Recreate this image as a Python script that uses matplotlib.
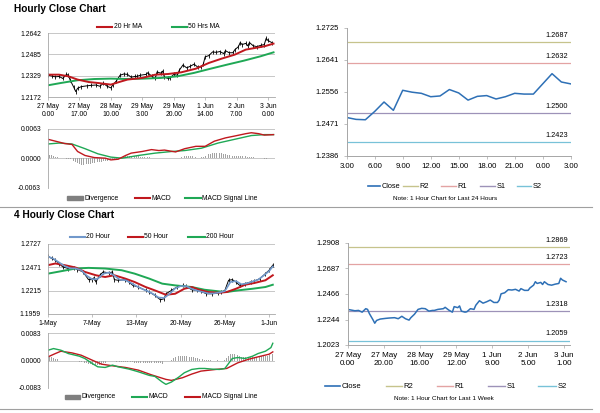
import matplotlib
matplotlib.use('Agg')
import matplotlib.pyplot as plt
from matplotlib.lines import Line2D
from matplotlib.patches import Rectangle

plt.rcParams['font.family'] = ['Liberation Sans', 'DejaVu Sans']

# ---------------- DATA ----------------
# Hourly closes (bar index = trading hour since 27 May 0:00)
h_idx = [0, 2, 4, 6, 8, 10, 11, 12, 14, 15, 16, 18, 21, 23, 26, 28, 30, 32, 34, 35,
         37, 39, 41, 43, 45, 47, 48, 50, 53, 54, 56, 58, 59, 61, 62, 63, 65, 66, 68, 70,
         71, 73, 75, 77, 79, 81, 83, 84, 85, 87, 89, 91, 93, 95, 96, 98, 100, 101, 103, 104,
         105, 107, 108, 109, 111, 113, 115, 117, 118, 119, 121]
h_close = [1.2332, 1.2326, 1.2320, 1.2323, 1.2308, 1.2338, 1.2332, 1.2296, 1.2242, 1.2212,
           1.2236, 1.2248, 1.2254, 1.2257, 1.2260, 1.2251, 1.2272, 1.2251, 1.2239, 1.2260,
           1.2290, 1.2332, 1.2341, 1.2338, 1.2317, 1.2323, 1.2323, 1.2332, 1.2338, 1.2350,
           1.2326, 1.2308, 1.2356, 1.2347, 1.2362, 1.2317, 1.2308, 1.2311, 1.2338, 1.2332,
           1.2368, 1.2407, 1.2386, 1.2398, 1.2413, 1.2392, 1.2392, 1.2413, 1.2467, 1.2476,
           1.2503, 1.2500, 1.2506, 1.2491, 1.2512, 1.2497, 1.2497, 1.2518, 1.2542, 1.2572,
           1.2557, 1.2566, 1.2548, 1.2572, 1.2548, 1.2542, 1.2551, 1.2557, 1.2602, 1.2587,
           1.2572]
h_ticks = [0, 17, 34, 51, 68, 85, 102, 119]
h_ticklabels = ['27 May\n0.00', '27 May\n17.00', '28 May\n10.00', '29 May\n3.00',
                '29 May\n20.00', '1 Jun\n14.00', '2 Jun\n7.00', '3 Jun\n0.00']
h_yticks = [1.2172, 1.2329, 1.2485, 1.2642]

ma20_idx = [0, 6, 11, 16, 22, 27, 34, 38, 43, 51, 58, 65, 72, 80, 87, 94, 101, 107, 112, 117, 122]
ma20 = [1.2336, 1.2336, 1.2324, 1.2300, 1.2282, 1.2275, 1.2263, 1.2280, 1.2300, 1.2312,
        1.2336, 1.2341, 1.2353, 1.2380, 1.2422, 1.2454, 1.2483, 1.2520, 1.2532, 1.2544, 1.2564]
ma50_idx = [0, 7, 16, 25, 34, 43, 52, 61, 70, 79, 88, 97, 106, 115, 122]
ma50 = [1.2258, 1.2275, 1.2295, 1.2304, 1.2307, 1.2304, 1.2307, 1.2312, 1.2324, 1.2349,
        1.2380, 1.2410, 1.2439, 1.2471, 1.2500]

# Hourly MACD
h_macd_idx = [0, 4, 9, 13, 16, 20, 25, 31, 34, 38, 42, 45, 51, 56, 60, 63, 69, 74, 80, 85,
              90, 96, 101, 107, 110, 114, 117, 122]
h_macd = [0.0041, 0.0037, 0.0032, 0.0030, 0.0015, 0.00065, 0.0002, 0.00007, -0.0003, -0.00015,
          0.00065, 0.00115, 0.0015, 0.0019, 0.0017, 0.0018, 0.0014, 0.0021, 0.0026, 0.0026,
          0.0037, 0.0044, 0.0048, 0.0053, 0.0055, 0.0053, 0.0050, 0.0051]
h_sig_idx = [0, 6, 13, 20, 27, 34, 40, 49, 58, 67, 74, 83, 92, 101, 110, 117, 122]
h_sig = [0.0031, 0.0033, 0.0031, 0.0021, 0.0010, 0.0003, 0.00007, 0.00065, 0.00115, 0.0015,
         0.0017, 0.0022, 0.0033, 0.0041, 0.0049, 0.0051, 0.0051]
h_div = [0.0009, 0.0008, 0.0007, 0.0005, 0.0004,
         0.0003, 0.0002, 0.0001, 0.0001, 0.0000,
         -0.0001, -0.0002, -0.0002, -0.0003, -0.0005,
         -0.0008, -0.0010, -0.0012, -0.0013, -0.0013,
         -0.0013, -0.0012, -0.0012, -0.0011, -0.0010,
         -0.0010, -0.0009, -0.0008, -0.0008, -0.0007,
         -0.0006, -0.0006, -0.0005, -0.0005, -0.0004,
         -0.0004, -0.0003, -0.0002, -0.0001, 0.0001,
         0.0003, 0.0004, 0.0005, 0.0006, 0.0006,
         0.0006, 0.0006, 0.0005, 0.0005, 0.0005,
         0.0004, 0.0004, 0.0004, 0.0003, 0.0003,
         0.0003, 0.0002, 0.0002, 0.0002, 0.0001,
         0.0002, 0.0001, 0.0002, 0.0001, 0.0000,
         0.0000, -0.0001, 0.0000, 0.0000, 0.0000,
         0.0001, 0.0002, 0.0003, 0.0004, 0.0005,
         0.0005, 0.0006, 0.0005, 0.0005, 0.0004,
         0.0003, 0.0002, 0.0002, 0.0003, 0.0004,
         0.0006, 0.0008, 0.0009, 0.0010, 0.0011,
         0.0012, 0.0012, 0.0012, 0.0011, 0.0011,
         0.0010, 0.0009, 0.0008, 0.0007, 0.0006,
         0.0006, 0.0006, 0.0005, 0.0005, 0.0005,
         0.0005, 0.0005, 0.0005, 0.0004, 0.0004,
         0.0004, 0.0003, 0.0002, 0.0002, 0.0001,
         0.0000, 0.0000, -0.0001, -0.0001, 0.0000,
         0.0000, 0.0000, 0.0000]
h_macd_yticks = [-0.0063, 0.0, 0.0063]

# 4-hourly
f_idx = [0, 2, 4, 6, 8, 11, 14, 16, 19, 22, 24, 25, 26, 28, 30, 33, 35, 36, 38, 42,
         44, 46, 49, 53, 55, 58, 61, 63, 64, 67, 70, 73, 75, 78, 81, 83, 86, 89, 92, 94,
         96, 98, 100, 102, 104, 107, 110, 112, 115, 118, 120, 122]
f_close = [1.2594, 1.2568, 1.2550, 1.2513, 1.2476, 1.2458, 1.2469, 1.2447, 1.2421, 1.2336,
           1.2336, 1.2358, 1.2310, 1.2384, 1.2421, 1.2410, 1.2421, 1.2336, 1.2329, 1.2336,
           1.2310, 1.2273, 1.2255, 1.2218, 1.2200, 1.2163, 1.2115, 1.2126, 1.2181, 1.2218,
           1.2255, 1.2273, 1.2262, 1.2225, 1.2218, 1.2207, 1.2181, 1.2181, 1.2188, 1.2200,
           1.2218, 1.2329, 1.2336, 1.2310, 1.2273, 1.2292, 1.2310, 1.2321, 1.2347, 1.2402,
           1.2439, 1.2495]
f_ticks = [0, 24, 48, 72, 96, 120]
f_ticklabels = ['1-May', '7-May', '13-May', '20-May', '26-May', '1-Jun']
f_yticks = [1.1959, 1.2215, 1.2471, 1.2727]

f_ma20_idx = [0, 3, 6, 9, 12, 15, 18, 21, 24, 27, 30, 33, 36, 39, 42, 45, 48, 51, 54, 57,
              60, 63, 66, 69, 72, 75, 78, 81, 84, 87, 90, 93, 96, 99, 102, 105, 108, 111, 114, 117,
              120, 122]
f_ma20 = [1.2590, 1.2565, 1.2525, 1.2485, 1.2460, 1.2460, 1.2440, 1.2380, 1.2340, 1.2345,
          1.2400, 1.2415, 1.2380, 1.2335, 1.2330, 1.2300, 1.2265, 1.2235, 1.2210, 1.2180,
          1.2140, 1.2135, 1.2180, 1.2240, 1.2265, 1.2265, 1.2235, 1.2215, 1.2200, 1.2185,
          1.2185, 1.2195, 1.2210, 1.2310, 1.2320, 1.2285, 1.2295, 1.2315, 1.2335, 1.2380,
          1.2430, 1.2480]
f_ma50_idx = [0, 4, 9, 15, 20, 26, 31, 36, 42, 47, 53, 58, 64, 69, 74, 78, 82, 87, 93, 97,
              102, 107, 112, 118, 122]
f_ma50 = [1.2495, 1.2513, 1.2495, 1.2469, 1.2421, 1.2384, 1.2365, 1.2384, 1.2347, 1.2310,
          1.2255, 1.2218, 1.2170, 1.2181, 1.2236, 1.2255, 1.2225, 1.2200, 1.2192, 1.2200,
          1.2236, 1.2280, 1.2299, 1.2329, 1.2384]
f_ma200_idx = [0, 7, 15, 22, 31, 40, 47, 55, 62, 69, 78, 85, 93, 97, 103, 111, 118, 122]
f_ma200 = [1.2402, 1.2428, 1.2458, 1.2465, 1.2458, 1.2439, 1.2402, 1.2347, 1.2292, 1.2273,
           1.2255, 1.2225, 1.2207, 1.2200, 1.2218, 1.2236, 1.2255, 1.2280]

f_macd_idx = [0, 3, 7, 11, 17, 20, 24, 27, 31, 35, 38, 44, 49, 55, 58, 62, 64, 67, 71, 74,
              78, 82, 85, 89, 93, 96, 100, 103, 107, 111, 114, 118, 121, 122]
f_macd = [0.0031, 0.0036, 0.0031, 0.0021, 0.0013, 0.0006, -0.0009, -0.0019, -0.0021, -0.0014,
          -0.0019, -0.0026, -0.0034, -0.0045, -0.0048, -0.0065, -0.0072, -0.0065, -0.0050, -0.0037,
          -0.0027, -0.0024, -0.0024, -0.0026, -0.0027, -0.0024, 0.0006, 0.0009, 0.0006, 0.0013,
          0.0021, 0.0028, 0.0039, 0.0052]
f_sig_idx = [0, 4, 7, 13, 18, 24, 29, 35, 42, 49, 56, 64, 67, 73, 78, 83, 91, 97, 103, 109,
             114, 120, 122]
f_sig = [0.0011, 0.0021, 0.0028, 0.0023, 0.0016, 0.0001, -0.0011, -0.0016, -0.0021, -0.0029,
         -0.0043, -0.0057, -0.0060, -0.0052, -0.0041, -0.0032, -0.0027, -0.0024, -0.0007, 0.0004,
         0.0011, 0.0019, 0.0026]
f_div = [0.0012, 0.0011, 0.0010, 0.0008, 0.0006,
         0.0004, 0.0002, 0.0000, -0.0001, -0.0002,
         -0.0003, -0.0003, -0.0003, -0.0003, -0.0002,
         -0.0003, -0.0003, -0.0004, -0.0005, -0.0006,
         -0.0007, -0.0009, -0.0011, -0.0012, -0.0013,
         -0.0014, -0.0015, -0.0014, -0.0013, -0.0011,
         -0.0009, -0.0007, -0.0005, -0.0003, -0.0002,
         -0.0002, -0.0003, -0.0004, -0.0004, -0.0005,
         -0.0005, -0.0005, -0.0006, -0.0006, -0.0006,
         -0.0006, -0.0006, -0.0007, -0.0007, -0.0007,
         -0.0007, -0.0007, -0.0008, -0.0008, -0.0008,
         -0.0008, -0.0008, -0.0008, -0.0008, -0.0008,
         -0.0009, -0.0009, -0.0010, -0.0008, -0.0005,
         -0.0003, 0.0000, 0.0003, 0.0007, 0.0010,
         0.0012, 0.0014, 0.0015, 0.0015, 0.0015,
         0.0014, 0.0013, 0.0012, 0.0011, 0.0010,
         0.0008, 0.0007, 0.0006, 0.0005, 0.0004,
         0.0003, 0.0002, 0.0001, 0.0001, 0.0000,
         0.0000, 0.0000, 0.0001, 0.0000, 0.0000,
         0.0001, 0.0003, 0.0008, 0.0014, 0.0019,
         0.0021, 0.0020, 0.0018, 0.0016, 0.0014,
         0.0012, 0.0011, 0.0010, 0.0010, 0.0010,
         0.0010, 0.0010, 0.0011, 0.0011, 0.0012,
         0.0012, 0.0013, 0.0013, 0.0014, 0.0015,
         0.0017, 0.0019, 0.0021]
f_macd_yticks = [-0.0083, 0.0, 0.0083]

# Last 24 hours (right top)
d_hours = ['3.00', '6.00', '9.00', '12.00', '15.00', '18.00', '21.00', '0.00', '3.00']
d_close = [1.2488, 1.2483, 1.2482, 1.2504, 1.2529, 1.2507, 1.2560, 1.2555, 1.2552, 1.2543,
           1.2545, 1.2562, 1.2553, 1.2534, 1.2544, 1.2546, 1.2537, 1.2543, 1.2552, 1.2550,
           1.2550, 1.2577, 1.2604, 1.2582, 1.2577]
d_yticks = [1.2386, 1.2471, 1.2556, 1.2641, 1.2725]
d_levels = {'R2': 1.2687, 'R1': 1.2632, 'S1': 1.2500, 'S2': 1.2423}

# Last week (right bottom)
w_ticks = [0, 20, 40, 60, 80, 100, 120]
w_ticklabels = ['27 May\n0.00', '27 May\n20.00', '28 May\n16.00', '29 May\n12.00',
                '1 Jun\n9.00', '2 Jun\n5.00', '3 Jun\n1.00']
w_yticks = [1.2023, 1.2244, 1.2466, 1.2687, 1.2908]
w_levels = {'R2': 1.2869, 'R1': 1.2723, 'S1': 1.2318, 'S2': 1.2059}

# ---------------- STYLE ----------------
RED = '#C0181E'
GREEN = '#1FA855'
BLUE = '#2E70B6'
LBLUE = '#7198CB'
GRID = '#BEBEBE'
AXC = '#A6A6A6'
DIVC = '#A3A3A3'
LVL_C = {'R2': '#C6C38C', 'R1': '#E3A3A3', 'S1': '#9D92B8', 'S2': '#78C2D8'}

W, H = 600, 413
fig = plt.figure(figsize=(6, 4.13), dpi=100)


def fx(px):
    return px / W


def fy(py):
    return 1 - py / H


def box(l, t, r, b):
    return [fx(l), fy(b), (r - l) / W, (b - t) / H]


def style_left(ax, yticks, fmt, xlim):
    ax.set_xlim(*xlim)
    ax.set_ylim(yticks[0], yticks[-1])
    ax.set_yticks(yticks)
    ax.set_yticklabels([fmt.format(v) for v in yticks], fontsize=4.9)
    ax.yaxis.grid(True, color=GRID, lw=0.6)
    ax.set_axisbelow(True)
    for s in ['top', 'right']:
        ax.spines[s].set_visible(False)
    for s in ['left', 'bottom']:
        ax.spines[s].set_color(AXC)
        ax.spines[s].set_linewidth(0.6)
    ax.tick_params(axis='y', length=0, pad=5)
    ax.tick_params(axis='x', length=2, width=0.5, color=AXC, pad=2, labelsize=4.9)


def style_right(ax, yticks, xlim, xfs):
    ax.set_xlim(*xlim)
    ax.set_ylim(yticks[0], yticks[-1])
    ax.set_yticks(yticks)
    ax.set_yticklabels(['{:.4f}'.format(v) for v in yticks], fontsize=5.5)
    for s in ['top', 'right']:
        ax.spines[s].set_visible(False)
    for s in ['left', 'bottom']:
        ax.spines[s].set_color(AXC)
        ax.spines[s].set_linewidth(0.7)
    ax.tick_params(axis='y', length=2, width=0.5, color=AXC, pad=3.5)
    ax.tick_params(axis='x', length=2, width=0.5, color=AXC, pad=3, labelsize=xfs)


def leg_line(x0, x1, y, color, label, fs=4.9, lw=1.5):
    fig.add_artist(Line2D([fx(x0), fx(x1)], [fy(y), fy(y)], color=color, lw=lw,
                          transform=fig.transFigure))
    fig.text(fx(x1 + 1.5), fy(y), label, fontsize=fs, va='center', ha='left')


def leg_patch(x0, x1, y, color, label, fs=4.9):
    fig.add_artist(Rectangle((fx(x0), fy(y + 2)), (x1 - x0) / W, 4 / H, color=color,
                             transform=fig.transFigure))
    fig.text(fx(x1 + 1.5), fy(y), label, fontsize=fs, va='center', ha='left')


# ---------------- Titles & separators ----------------
fig.text(fx(14), fy(9), 'Hourly Close Chart', fontsize=7.3, fontweight='bold', va='center')
fig.text(fx(14), fy(215), '4 Hourly Close Chart', fontsize=7.3, fontweight='bold', va='center')
for yy in [207, 409]:
    fig.add_artist(Line2D([0, fx(592)], [fy(yy), fy(yy)], color='#A0A0A0', lw=0.8,
                          transform=fig.transFigure))

# ---------------- Panel 1: hourly price ----------------
ax1 = fig.add_axes(box(48, 33, 275, 97))
ax1.plot(h_idx, h_close, color='black', lw=0.7, marker='|', ms=2.5, mew=0.6)
ax1.plot(ma50_idx, ma50, color=GREEN, lw=1.4)
ax1.plot(ma20_idx, ma20, color=RED, lw=1.4)
style_left(ax1, h_yticks, '{:.4f}', (0, 122.8))
ax1.set_xticks(h_ticks)
ax1.set_xticklabels(h_ticklabels)
leg_line(97, 112, 27, RED, '20 Hr MA')
leg_line(172, 187, 27, GREEN, '50 Hrs MA')

# ---------------- Panel 2: hourly MACD ----------------
ax2 = fig.add_axes(box(48, 129, 275, 188))
ax2.bar(range(len(h_div)), h_div, width=0.45, color=DIVC)
ax2.plot(h_sig_idx, h_sig, color=GREEN, lw=1.0)
ax2.plot(h_macd_idx, h_macd, color=RED, lw=1.0)
style_left(ax2, h_macd_yticks, '{:.4f}', (0, 122.8))
ax2.set_xticks([])
ax2.spines['bottom'].set_visible(False)
leg_patch(67, 83, 198, '#7F7F7F', 'Divergence')
leg_line(135, 150, 198, RED, 'MACD')
leg_line(185, 201, 198, GREEN, 'MACD Signal Line')

# ---------------- Panel 3: 4-hourly price ----------------
ax3 = fig.add_axes(box(48, 244, 275, 314))
ax3.plot(f_idx, f_close, color='black', lw=0.7, marker='|', ms=2.5, mew=0.6)
ax3.plot(f_ma200_idx, f_ma200, color=GREEN, lw=1.4)
ax3.plot(f_ma50_idx, f_ma50, color=RED, lw=1.4)
ax3.plot(f_ma20_idx, f_ma20, color=LBLUE, lw=1.2)
style_left(ax3, f_yticks, '{:.4f}', (0, 123.2))
ax3.set_xticks(f_ticks)
ax3.set_xticklabels(f_ticklabels)
leg_line(70, 85, 237, LBLUE, '20 Hour')
leg_line(128, 143, 237, RED, '50 Hour')
leg_line(188, 205, 237, GREEN, '200 Hour')

# ---------------- Panel 4: 4-hourly MACD ----------------
ax4 = fig.add_axes(box(48, 333, 275, 388))
ax4.bar(range(len(f_div)), f_div, width=0.45, color=DIVC)
ax4.plot(f_sig_idx, f_sig, color=RED, lw=1.0)
ax4.plot(f_macd_idx, f_macd, color=GREEN, lw=1.0)
style_left(ax4, f_macd_yticks, '{:.4f}', (0, 123.2))
ax4.set_xticks([])
ax4.spines['bottom'].set_visible(False)
leg_patch(65, 80, 397, '#7F7F7F', 'Divergence')
leg_line(132, 147, 397, GREEN, 'MACD')
leg_line(185, 200, 397, RED, 'MACD Signal Line')

# ---------------- Panel 5: last 24 hours ----------------
ax5 = fig.add_axes(box(346.7, 28, 570.7, 156))
style_right(ax5, d_yticks, (0, 24), 5.6)
for name, lvl in d_levels.items():
    ax5.axhline(lvl, color=LVL_C[name], lw=0.9)
    ax5.annotate('{:.4f}'.format(lvl), xy=(22.5, lvl), xytext=(0, 4.6),
                 textcoords='offset points', ha='center', va='center', fontsize=5.3)
ax5.plot(range(len(d_close)), d_close, color=BLUE, lw=1.1)
ax5.set_xticks(range(0, 25, 3))
ax5.set_xticklabels(d_hours)
leg_line(368, 380, 186, BLUE, 'Close', fs=5.3, lw=1.2)
leg_line(403, 418, 186, LVL_C['R2'], 'R2', fs=5.3, lw=1.0)
leg_line(441, 456, 186, LVL_C['R1'], 'R1', fs=5.3, lw=1.0)
leg_line(480, 495, 186, LVL_C['S1'], 'S1', fs=5.3, lw=1.0)
leg_line(517, 531, 186, LVL_C['S2'], 'S2', fs=5.3, lw=1.0)
fig.text(fx(445), fy(198), 'Note: 1 Hour Chart for Last 24 Hours', fontsize=4.6,
         ha='center', va='center')

# ---------------- Panel 6: last week ----------------
ax6 = fig.add_axes(box(347.7, 243, 570, 345))
style_right(ax6, w_yticks, (0, 123.2), 5.8)
for name, lvl in w_levels.items():
    ax6.axhline(lvl, color=LVL_C[name], lw=0.9)
    ax6.annotate('{:.4f}'.format(lvl), xy=(116, lvl), xytext=(0, 5.0),
                 textcoords='offset points', ha='center', va='center', fontsize=5.3)
ax6.plot(h_idx, h_close, color=BLUE, lw=1.1)
ax6.set_xticks(w_ticks)
ax6.set_xticklabels(w_ticklabels)
leg_line(325, 340, 386, BLUE, 'Close', fs=5.5, lw=1.2)
leg_line(386, 402, 386, LVL_C['R2'], 'R2', fs=5.5, lw=1.0)
leg_line(437, 453, 386, LVL_C['R1'], 'R1', fs=5.5, lw=1.0)
leg_line(488, 505, 386, LVL_C['S1'], 'S1', fs=5.5, lw=1.0)
leg_line(538, 556, 386, LVL_C['S2'], 'S2', fs=5.5, lw=1.0)
fig.text(fx(444), fy(399), 'Note: 1 Hour Chart for Last 1 Week', fontsize=4.6,
         ha='center', va='center')

fig.savefig('out.png', dpi=100)
